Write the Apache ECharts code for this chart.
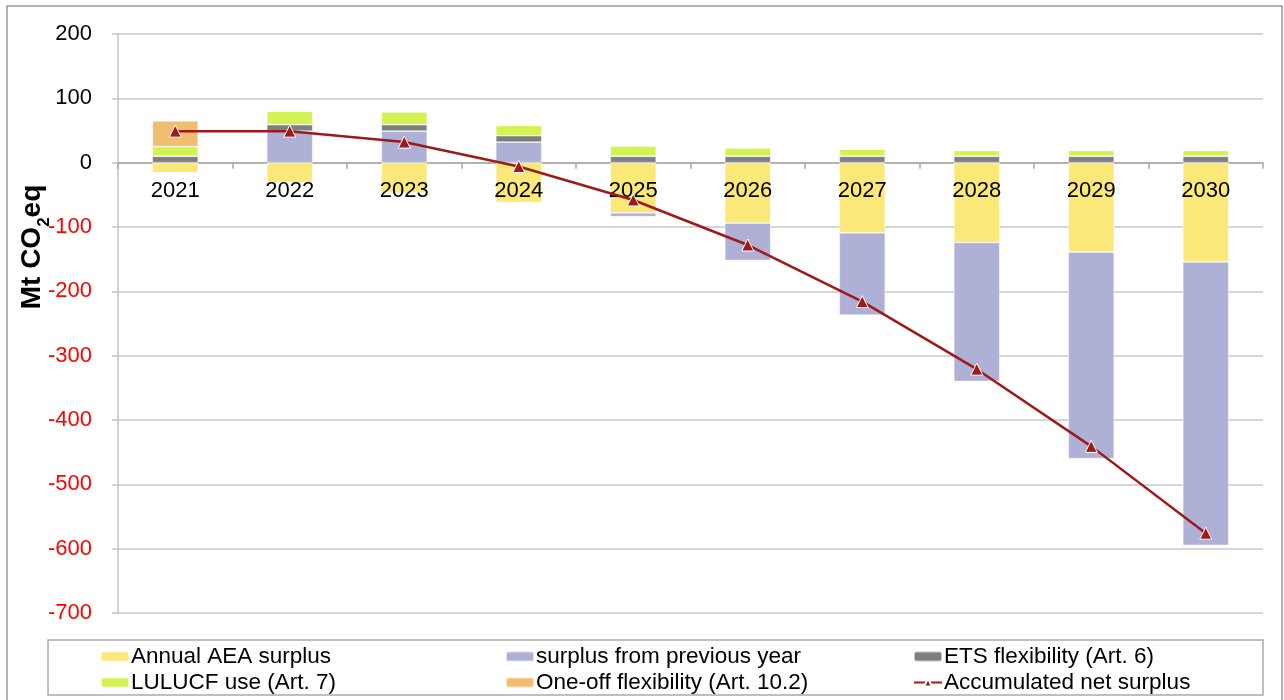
<!DOCTYPE html>
<html>
<head>
<meta charset="utf-8">
<script src="https://cdn.jsdelivr.net/npm/echarts@6/dist/echarts.min.js"></script>
<style>
  html, body { margin: 0; padding: 0; background: #fff; }
  #chart { width: 1284px; height: 700px; }
</style>
</head>
<body>
<div id="chart"></div>
<script>
// Years on the category axis
const years = ['2021', '2022', '2023', '2024', '2025', '2026', '2027', '2028', '2029', '2030'];

// Stacked components, Mt CO2eq
const annualAeaSurplus   = [-16, -31, -47, -62, -78, -94, -109, -124, -139, -154];
const surplusPrevYear    = [0, 49, 49, 32, -6, -58, -128, -216, -321, -441];
const etsFlexibility     = [10, 10, 10, 10, 10, 10, 10, 10, 10, 10];
const lulucfUse          = [15, 21, 20, 16, 16, 13, 11, 9, 9, 9];
const oneOffFlexibility  = [40, 0, 0, 0, 0, 0, 0, 0, 0, 0];

// Running balance line
const accumulatedNetSurplus = [49, 49, 32, -6, -58, -128, -216, -321, -441, -576];

// Value axis range
const yMin = -700, yMax = 200, yStep = 100;

const FONT = '"Liberation Sans", Arial, sans-serif';

const names = {
  annual: 'Annual AEA surplus',
  prev: 'surplus from previous year',
  ets: 'ETS flexibility (Art. 6)',
  lulucf: 'LULUCF use (Art. 7)',
  oneoff: 'One-off flexibility (Art. 10.2)',
  acc: 'Accumulated net surplus'
};

const colors = {
  annual: '#FAE878',
  prev: '#AEB0D6',
  ets: '#7F7F7F',
  lulucf: '#D3F352',
  oneoff: '#F0BE70',
  acc: '#9E1A1A'
};

// Plot area
const gridTop = 34, gridBottom = 87, gridLeft = 118, gridRight = 21;
const chartH = 700;
const plotH = chartH - gridTop - gridBottom;
// The category axis sits on the zero line: shift it up from the bottom edge
const zeroShift = plotH * (0 - yMin) / (yMax - yMin);

function barSeries(key, data) {
  return {
    name: names[key],
    type: 'bar',
    stack: 'total',
    barWidth: 46,
    data: data,
    z: 2,
    itemStyle: { color: colors[key], borderColor: 'rgba(255,255,255,0.55)', borderWidth: 0.8 },
    emphasis: { disabled: true }
  };
}

// One legend block per entry, laid out in a 3 x 2 table
const legendCols = [100, 505, 913];
const legendRows = [645, 671];
const legendOrder = ['annual', 'prev', 'ets', 'lulucf', 'oneoff', 'acc'];
const legends = legendOrder.map((key, i) => ({
  data: [names[key]],
  left: legendCols[i % 3],
  top: legendRows[Math.floor(i / 3)],
  padding: 0,
  itemGap: 0,
  itemWidth: 28,
  itemHeight: 10,
  selectedMode: false,
  textStyle: { fontFamily: FONT, fontSize: 22.5, color: '#000', padding: [0, 0, 0, -3] }
}));

const chart = echarts.init(document.getElementById('chart'), null, { renderer: 'canvas' });

chart.setOption({
  animation: false,
  backgroundColor: '#fff',
  grid: { left: gridLeft, right: gridRight, top: gridTop, bottom: gridBottom },
  legend: legends,
  graphic: [
    {
      type: 'rect',
      shape: { x: 7, y: 6, width: 1275, height: 720 },
      style: { fill: 'none', stroke: '#999', lineWidth: 1.5 },
      z: -10
    },
    {
      type: 'rect',
      shape: { x: 48, y: 640, width: 1215, height: 55 },
      style: { fill: 'none', stroke: '#aaa', lineWidth: 1.5 },
      z: -10
    },
    {
      type: 'text',
      x: 31,
      y: 247,
      rotation: Math.PI / 2,
      style: {
        text: '{a|Mt CO}{s|2}{a|eq}',
        align: 'center',
        verticalAlign: 'middle',
        rich: {
          a: { fontFamily: FONT, fontSize: 28, fontWeight: 'bold', fill: '#000', lineHeight: 30, verticalAlign: 'bottom' },
          s: { fontFamily: FONT, fontSize: 17, fontWeight: 'bold', fill: '#000', lineHeight: 22, verticalAlign: 'bottom', padding: [0, 0, -7, 0] }
        }
      }
    }
  ],
  xAxis: [
    {
      // zero line and category ticks (drawn under the bars)
      type: 'category',
      data: years,
      offset: -zeroShift,
      z: 0,
      axisLine: { onZero: false, lineStyle: { color: '#a6a6a6', width: 1.5 } },
      axisTick: { show: true, length: 6, lineStyle: { color: '#a6a6a6', width: 1.5 } },
      axisLabel: { show: false },
      splitLine: { show: false }
    },
    {
      // year labels, drawn on top of the bars
      type: 'category',
      data: years,
      position: 'bottom',
      offset: -zeroShift,
      z: 10,
      axisLine: { show: false, onZero: false },
      axisTick: { show: false },
      axisLabel: { fontFamily: FONT, fontSize: 22, color: '#000', margin: 17 },
      splitLine: { show: false }
    }
  ],
  yAxis: {
    type: 'value',
    min: yMin,
    max: yMax,
    interval: yStep,
    axisLine: { show: true, lineStyle: { color: '#c4c4c4', width: 1.5 } },
    axisTick: { show: true, length: 6, lineStyle: { color: '#c4c4c4', width: 1.5 } },
    axisLabel: {
      fontFamily: FONT,
      fontSize: 22,
      margin: 26,
      color: (v) => (Number(v) < 0 ? '#FF0000' : '#000')
    },
    splitLine: { show: true, lineStyle: { color: '#c8c8c8', width: 1.5 } }
  },
  series: [
    barSeries('annual', annualAeaSurplus),
    barSeries('prev', surplusPrevYear),
    barSeries('ets', etsFlexibility),
    barSeries('lulucf', lulucfUse),
    barSeries('oneoff', oneOffFlexibility),
    {
      name: names.acc,
      type: 'line',
      data: accumulatedNetSurplus,
      z: 20,
      symbol: 'triangle',
      symbolSize: 12,
      lineStyle: { color: colors.acc, width: 2.5 },
      itemStyle: { color: colors.acc, borderColor: '#fff', borderWidth: 1 },
      emphasis: { disabled: true }
    }
  ]
});
</script>
</body>
</html>
